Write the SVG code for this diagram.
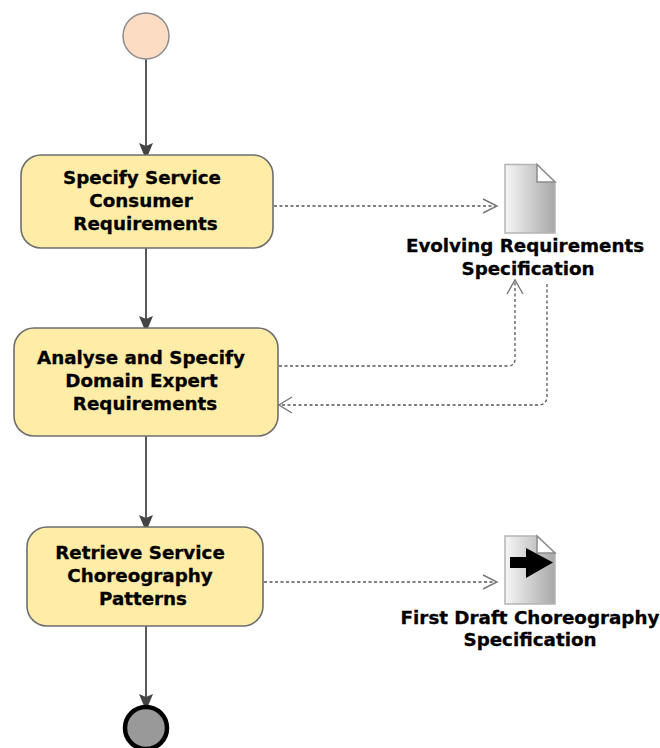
<svg xmlns="http://www.w3.org/2000/svg" width="660" height="748" viewBox="0 0 660 748">
<style>
.act{fill:#ffeca6;stroke:#6e6e6e;stroke-width:1.6}
.lbl{font-family:"DejaVu Sans",Verdana,sans-serif;font-size:18.300px;font-weight:bold;fill:#000;text-anchor:middle;stroke:#000;stroke-width:.3}
.flow{fill:none;stroke:#5a5a5a;stroke-width:2}
.dep{fill:none;stroke:#555;stroke-width:1.3;stroke-dasharray:3 2.500}
.open{fill:none;stroke:#777;stroke-width:1.4}
.doc{fill:url(#g);stroke:#b4b4b4;stroke-width:1.5}
.fold{fill:#fff;stroke:#8c8c8c;stroke-width:1.5}
</style>
<defs>
<linearGradient id="g" x1="0" x2="1" y1="0" y2="0"><stop offset="0" stop-color="#f6f6f6"/><stop offset="1" stop-color="#a8a8a8"/></linearGradient>
<marker id="ah" markerUnits="userSpaceOnUse" markerWidth="14" markerHeight="14" refX="12" refY="7" orient="auto"><path d="M0 0L12 5L12 9L0 14L3 7Z" fill="#444"/></marker>
</defs>
<g id="connectors">
<path class="flow" d="M146 59V155" marker-end="url(#ah)"/>
<path class="flow" d="M146 248V328" marker-end="url(#ah)"/>
<path class="flow" d="M146 436V527" marker-end="url(#ah)"/>
<path class="flow" d="M146 626V706" marker-end="url(#ah)"/>
<path class="dep" d="M274 206H496"/>
<path class="open" d="M483 199L497 206L483 213"/>
<path class="dep" d="M279 366H508Q515 366 515 359V281"/>
<path class="open" d="M507 294L515 280L523 294"/>
<path class="dep" d="M547 284V396Q547 405 538 405H280"/>
<path class="open" d="M292 397L279 405L292 413"/>
<path class="dep" d="M264 582H496"/>
<path class="open" d="M483 575L497 582L483 589"/>
</g>
<g id="start"><circle cx="146" cy="36" r="23" fill="#fddcc4" stroke="#8c8c8c" stroke-width="1.5"/></g>
<g id="end"><circle cx="146" cy="728" r="21" fill="#999" stroke="#000" stroke-width="4.500"/></g>
<g id="a1"><rect class="act" x="21" y="155" width="252" height="93" rx="20"/>
<text class="lbl" x="142" y="184">Specify Service</text><text class="lbl" x="141" y="207">Consumer</text><text class="lbl" x="145.500" y="230">Requirements</text></g>
<g id="a2"><rect class="act" x="14" y="328" width="264" height="108" rx="20"/>
<text class="lbl" x="141" y="364">Analyse and Specify</text><text class="lbl" x="141.500" y="387">Domain Expert</text><text class="lbl" x="145" y="410">Requirements</text></g>
<g id="a3"><rect class="act" x="27" y="527" width="236" height="99" rx="20"/>
<text class="lbl" x="140" y="559">Retrieve Service</text><text class="lbl" x="140" y="582">Choreography</text><text class="lbl" x="143" y="605">Patterns</text></g>
<g id="doc1"><path class="doc" d="M505 164.500H537L555 182V233H505Z"/><path class="fold" d="M537 164.500V182H555Z"/>
<text class="lbl" x="525" y="252">Evolving Requirements</text><text class="lbl" x="528" y="275">Specification</text></g>
<g id="doc2"><path class="doc" d="M505 536H537L555 553V604H505Z"/><path class="fold" d="M537 536V553H555Z"/>
<path d="M510 557H526V548L553 562.500L526 578V568H510Z" fill="#000"/>
<text class="lbl" x="530" y="624">First Draft Choreography</text><text class="lbl" x="530" y="646">Specification</text></g>
</svg>
